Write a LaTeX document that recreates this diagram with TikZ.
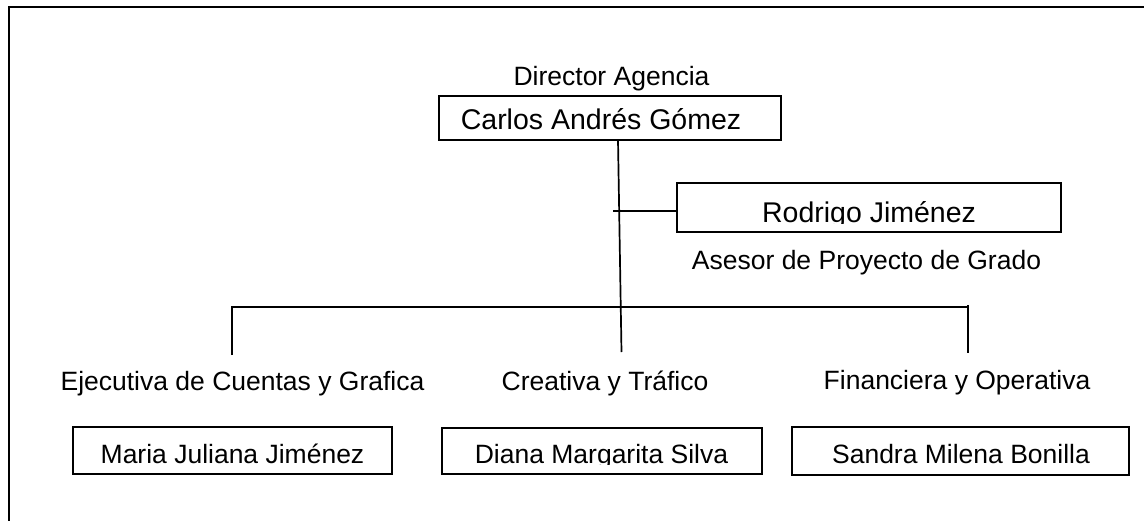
\documentclass[tikz,border=0pt]{standalone}
\usepackage{fontspec}
\setmainfont{Liberation Sans}
\usetikzlibrary{fit}
\begin{document}
\begin{tikzpicture}[x=1pt,y=-1pt,
  box/.style={draw, line width=1.9pt, inner sep=0pt},
  lbl/.style={inner sep=0pt, anchor=base, font=\fontsize{26.5}{30}\selectfont},
  biglbl/.style={inner sep=0pt, anchor=base, font=\fontsize{28.5}{32}\selectfont},
  conn/.style={line width=1.7pt},
  frame/.style={line width=2.5pt}]
\useasboundingbox (0,0) rectangle (1144,520);
% outer frame
\draw[frame] (9,530) -- (9,7) -- (1150,7);

% director
\node[lbl] (dirlbl) at (611.5,85) {Director Agencia};
\node[box, fit={(439,96) (781,140)}] (carlosbox) {};
\node[biglbl] (carlos) at (601,129) {Carlos Andrés Gómez};

% advisor
\node[box, fit={(677,183) (1061,232)}] (rodrigobox) {};
\begin{scope}
  \clip (677,183) rectangle (1061,223.5);
  \node[biglbl] (rodrigo) at (869,222) {Rodrigo Jiménez};
\end{scope}
\node[lbl] (asesor) at (866.5,269) {Asesor de Proyecto de Grado};

% departments
\node[lbl] (ejec) at (242.5,390) {Ejecutiva de Cuentas y Grafica};
\node[lbl] (crea) at (605,390) {Creativa y Tráfico};
\node[lbl] (fina) at (957,389) {Financiera y Operativa};

% people
\node[box, fit={(73,427) (392,474)}] (mariabox) {};
\node[lbl] (maria) at (232.5,463) {Maria Juliana Jiménez};
\node[box, fit={(442,428) (762,474)}] (dianabox) {};
\begin{scope}
  \clip (442,428) rectangle (762,464.5);
  \node[lbl] (diana) at (601.5,463) {Diana Margarita Silva};
\end{scope}
\node[box, fit={(792,427) (1129,475)}] (sandrabox) {};
\node[lbl] (sandra) at (961,463) {Sandra Milena Bonilla};

% connectors
\coordinate (trunktop) at (618,140);
\coordinate (trunkbot) at (621.5,352);
\draw[conn] (trunktop) -- (trunkbot);
\coordinate (tap) at (613,211);
\draw[conn] (tap) -- (rodrigobox.west |- tap);
\coordinate (lefttip) at (232,355);
\coordinate (barleft) at (232,307);
\coordinate (barright) at (968,307);
\coordinate (righttop) at (968,305);
\coordinate (righttip) at (968,353);
\draw[conn] (lefttip) -- (barleft) -- (barright);
\draw[conn] (righttop) -- (righttip);
\end{tikzpicture}
\end{document}
